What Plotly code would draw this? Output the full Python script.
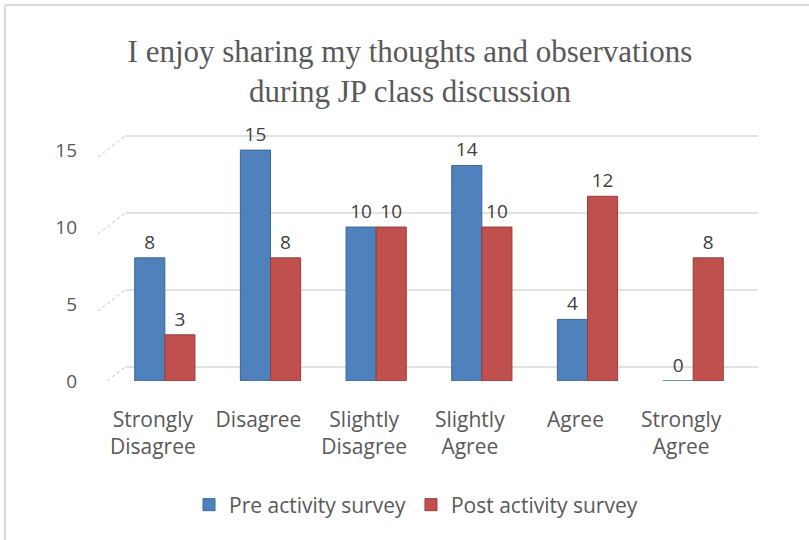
import plotly.graph_objects as go

categories = ["Strongly<br>Disagree", "Disagree", "Slightly<br>Disagree",
              "Slightly<br>Agree", "Agree", "Strongly<br>Agree"]
pre_values = [8, 15, 10, 14, 4, 0]
post_values = [3, 8, 10, 10, 12, 8]
y_ticks = [0, 5, 10, 15]
title_text = "I enjoy sharing my thoughts and observations<br>during JP class discussion"

W, H = 809, 540
L, R, T, B = 112, 63, 127, 159
Y_MAX = 16.5

BLUE = "#4F81BD"
RED = "#C0504D"
TEXT = "#595959"
GRID = "#D9D9D9"
FONT = "Open Sans"

PX_PER_UNIT = (H - T - B) / Y_MAX
DEPTH = 14 / PX_PER_UNIT  # back wall sits a little above the bar fronts


def px_x(p):
    return (p - L) / (W - L - R)


def px_y(p):
    return 1 - (p - T) / (H - T - B)


fig = go.Figure()
fig.add_trace(go.Bar(
    name="Pre activity survey", x=categories, y=pre_values,
    marker=dict(color=BLUE, line=dict(color="#3A6699", width=1)),
    text=pre_values, textposition="outside", cliponaxis=False,
    textfont=dict(size=19, color="#404040", family=FONT),
))
fig.add_trace(go.Bar(
    name="Post activity survey", x=categories, y=post_values,
    marker=dict(color=RED, line=dict(color="#983C3A", width=1)),
    text=post_values, textposition="outside", cliponaxis=False,
    textfont=dict(size=19, color="#404040", family=FONT),
))

# back-wall gridlines with short perspective stubs towards the tick labels
for v in y_ticks:
    fig.add_shape(type="line", xref="paper", yref="y", layer="below",
                  x0=px_x(125), x1=px_x(758), y0=v + DEPTH, y1=v + DEPTH,
                  line=dict(color=GRID, width=1.5))
    fig.add_shape(type="line", xref="paper", yref="y", layer="below",
                  x0=px_x(98), x1=px_x(125),
                  y0=v - 7 / PX_PER_UNIT, y1=v + DEPTH,
                  line=dict(color="#BFBFBF", width=1, dash="dot"))

# chart frame (top and left edges)
fig.add_shape(type="line", xref="paper", yref="paper",
              x0=px_x(5), x1=px_x(W + 5), y0=px_y(5), y1=px_y(5),
              line=dict(color=GRID, width=2))
fig.add_shape(type="line", xref="paper", yref="paper",
              x0=px_x(5), x1=px_x(5), y0=px_y(5), y1=px_y(H + 5),
              line=dict(color=GRID, width=2))

fig.update_layout(
    width=W, height=H,
    margin=dict(l=L, r=R, t=T, b=B),
    paper_bgcolor="white", plot_bgcolor="white",
    barmode="group", bargap=0.43, bargroupgap=0.0,
    font=dict(family=FONT, color=TEXT),
    title=dict(
        text=title_text,
        font=dict(family="Liberation Serif", size=31, color=TEXT),
        x=410 / W, xref="container", xanchor="center",
        y=1 - 62 / H, yref="container", yanchor="middle",
    ),
    legend=dict(
        orientation="h", x=416 / W, xref="container", xanchor="center",
        y=1 - 505 / H, yref="container", yanchor="middle",
        font=dict(size=21, color=TEXT, family=FONT),
        itemwidth=30, traceorder="normal",
    ),
    xaxis=dict(
        showline=False, showgrid=False, ticks="",
        tickfont=dict(size=21, color=TEXT, family=FONT),
        ticklabelshift=-12, ticklabelstandoff=24,
    ),
    yaxis=dict(
        range=[0, Y_MAX], tickvals=y_ticks,
        showline=False, zeroline=False, showgrid=False,
        tickfont=dict(size=19, color=TEXT, family=FONT),
        ticklabelstandoff=34,
    ),
)

fig.write_html("out.html")
